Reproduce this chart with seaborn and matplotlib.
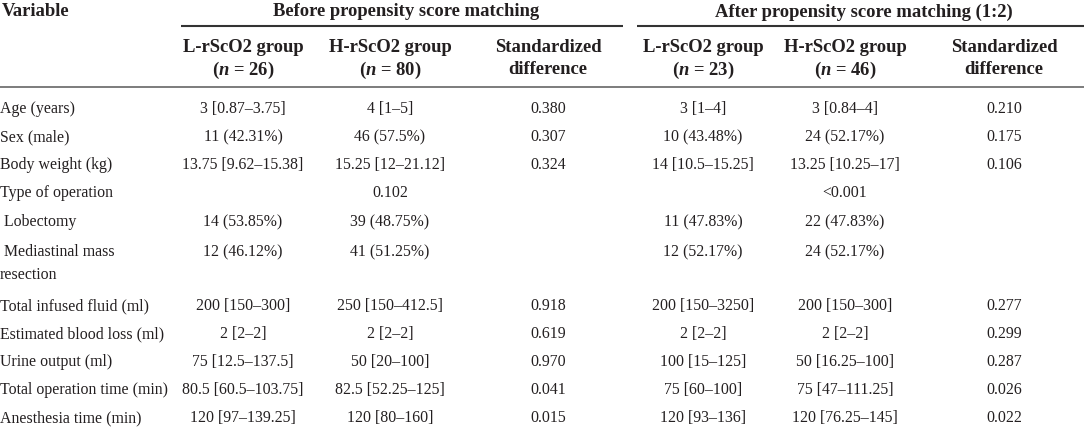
import matplotlib
matplotlib.use("Agg")
import matplotlib.pyplot as plt
import seaborn as sns

sns.set_theme(style="white")
plt.rcParams["font.family"] = ["Liberation Serif", "DejaVu Serif"]
plt.rcParams["mathtext.fontset"] = "custom"
plt.rcParams["mathtext.bfit"] = "Liberation Serif:italic:bold"
plt.rcParams["mathtext.it"] = "Liberation Serif:italic"
plt.rcParams["mathtext.rm"] = "Liberation Serif"

# ---- table data ----
group_titles = ["Before propensity score matching", "After propensity score matching (1:2)"]
col_heads = ["L-rScO2 group", "H-rScO2 group", "Standardized"]
col_heads2 = ["26", "80", "difference", "23", "46", "difference"]

variables = ["Age (years)", "Sex (male)", "Body weight (kg)", "Type of operation",
             " Lobectomy", " Mediastinal mass\nresection", "Total infused fluid (ml)",
             "Estimated blood loss (ml)", "Urine output (ml)",
             "Total operation time (min)", "Anesthesia time (min)"]
before_l = ["3 [0.87–3.75]", "11 (42.31%)", "13.75 [9.62–15.38]", "", "14 (53.85%)",
            "12 (46.12%)", "200 [150–300]", "2 [2–2]", "75 [12.5–137.5]",
            "80.5 [60.5–103.75]", "120 [97–139.25]"]
before_h = ["4 [1–5]", "46 (57.5%)", "15.25 [12–21.12]", "0.102", "39 (48.75%)",
            "41 (51.25%)", "250 [150–412.5]", "2 [2–2]", "50 [20–100]",
            "82.5 [52.25–125]", "120 [80–160]"]
before_std = ["0.380", "0.307", "0.324", "", "", "", "0.918", "0.619", "0.970",
              "0.041", "0.015"]
after_l = ["3 [1–4]", "10 (43.48%)", "14 [10.5–15.25]", "", "11 (47.83%)",
           "12 (52.17%)", "200 [150–3250]", "2 [2–2]", "100 [15–125]",
           "75 [60–100]", "120 [93–136]"]
after_h = ["3 [0.84–4]", "24 (52.17%)", "13.25 [10.25–17]", "<0.001", "22 (47.83%)",
           "24 (52.17%)", "200 [150–300]", "2 [2–2]", "50 [16.25–100]",
           "75 [47–111.25]", "120 [76.25–145]"]
after_std = ["0.210", "0.175", "0.106", "", "", "", "0.277", "0.299", "0.287",
             "0.026", "0.022"]

# ---- layout ----
W, H = 1084, 431
col_x = [243, 390, 548, 703, 845, 1004]
row_y = [109, 137, 165, 193, 222, 252, 306, 334, 362, 390, 418]
ink = "#231f20"
body = 11.4
head = 13.4

fig = plt.figure(figsize=(W / 100, H / 100), dpi=100)
ax = fig.add_axes([0, 0, 1, 1])
ax.set_xlim(0, W)
ax.set_ylim(H, 0)
ax.axis("off")

# header
ax.text(2, 12, "Variable", fontsize=head, fontweight="bold", color=ink, va="center")
ax.text(406, 12, group_titles[0], fontsize=head, fontweight="bold", color=ink,
        va="center", ha="center")
ax.text(864, 12, group_titles[1], fontsize=head, fontweight="bold", color=ink,
        va="center", ha="center")
ax.plot([181, 623], [26.5, 26.5], color="#333333", lw=1.5, solid_capstyle="butt")
ax.plot([637, 1084], [26.5, 26.5], color="#333333", lw=1.5, solid_capstyle="butt")

for i, x in enumerate(col_x):
    j = i % 3
    ax.text(x, 47, col_heads[j], fontsize=head, fontweight="bold", color=ink,
            va="center", ha="center")
    if j < 2:
        sub = r"($\mathbfit{n}$ = " + col_heads2[i] + ")"
    else:
        sub = col_heads2[i]
    ax.text(x, 70, sub, fontsize=head, fontweight="bold", color=ink,
            va="center", ha="center")
ax.plot([0, W], [88, 88], color="#666666", lw=1.2, solid_capstyle="butt")

# body rows
columns = [before_l, before_h, before_std, after_l, after_h, after_std]
for r, name in enumerate(variables):
    y = row_y[r]
    if "\n" in name:
        first, second = name.split("\n")
        ax.text(0, y, first, fontsize=body, color=ink, va="center")
        ax.text(0, y + 23, second, fontsize=body, color=ink, va="center")
    else:
        ax.text(0, y, name, fontsize=body, color=ink, va="center")
    for x, col in zip(col_x, columns):
        if col[r]:
            ax.text(x, y, col[r], fontsize=body, color=ink, va="center", ha="center")

fig.savefig("out.png", dpi=100)
